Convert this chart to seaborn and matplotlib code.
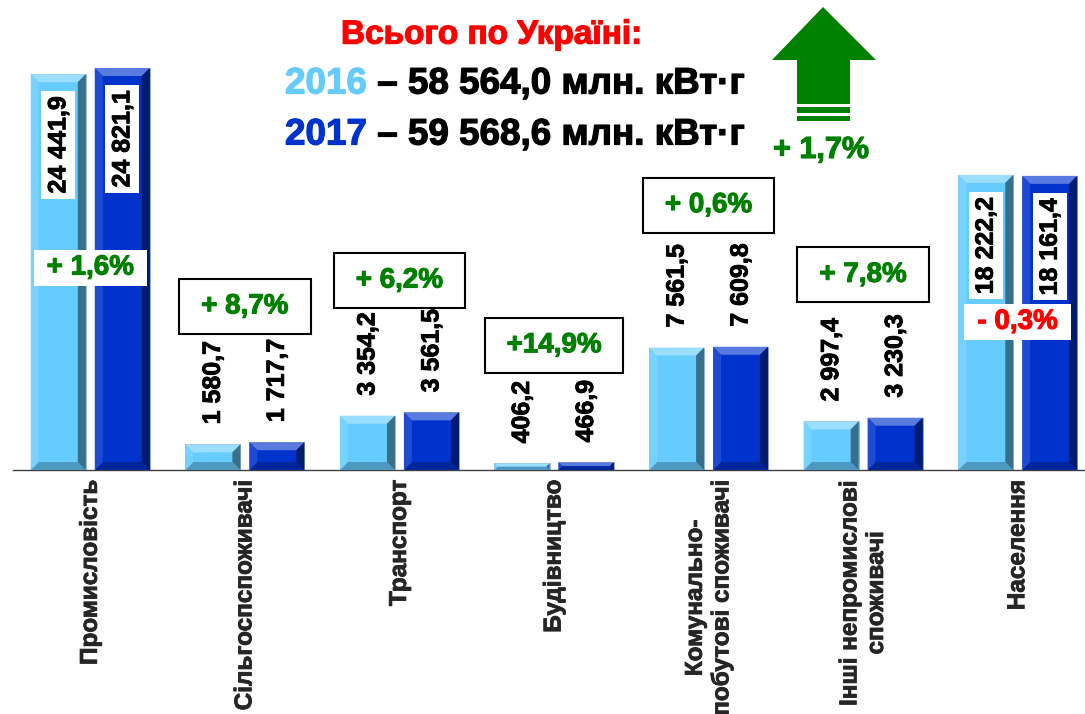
import matplotlib
matplotlib.use("Agg")
import numpy as np
import pandas as pd
import matplotlib.pyplot as plt
import matplotlib.colors as mcolors
import matplotlib.patheffects as pe
from matplotlib.patches import Polygon, Rectangle
from matplotlib.transforms import IdentityTransform
import seaborn as sns

# data
categories = ['Промисловість', 'Сільгоспспоживачі', 'Транспорт', 'Будівництво',
              'Комунально-\nпобутові споживачі', 'Інші непромислові\nспоживачі', 'Населення']
years = ['2016', '2017']
values_2016 = [24441.9, 1580.7, 3354.2, 406.2, 7561.5, 2997.4, 18222.2]
values_2017 = [24821.1, 1717.7, 3561.5, 466.9, 7609.8, 3230.3, 18161.4]
totals = [58564.0, 59568.6]

# where the change badges sit (data units)
badge_y = [12500, 10100, 11700, 7700, 16350, 12050, 9150]

LIGHT = '#66CCFF'
DARK = '#0033CC'
GREEN = '#008000'
RED = '#FF0000'
W, H = 1085, 714


def fmt(v):
    return f"{v:,.1f}".replace(',', ' ').replace('.', ',')


def fmt_pct(p):
    sign = '+' if p >= 0 else '-'
    sp = ' ' if abs(p) < 10 else ''
    return f"{sign}{sp}{abs(p):.1f}".replace('.', ',') + '%'


def px(x, y):
    return (x / W, 1 - y / H)


def mix(c, other, t):
    a = np.array(mcolors.to_rgb(c))
    b = np.array(mcolors.to_rgb(other))
    return tuple(a * (1 - t) + b * t)


def heavy(t, lw=0.7):
    # slide text is a bit heavier than Liberation bold
    t.set_path_effects([pe.withStroke(linewidth=lw, foreground=t.get_color())])
    return t


df = pd.DataFrame({
    'Category': categories * 2,
    'Year': [years[0]] * len(categories) + [years[1]] * len(categories),
    'Value': values_2016 + values_2017,
})

sns.set_style("white")
plt.rcParams['font.family'] = ['Liberation Sans', 'DejaVu Sans']
plt.rcParams['font.weight'] = 'bold'

fig = plt.figure(figsize=(W / 100, H / 100), dpi=100)
ax = fig.add_axes([13 / W, 244 / H, 1082 / W, 470 / H])

sns.barplot(data=df, x='Category', y='Value', hue='Year', palette=[LIGHT, DARK],
            width=0.828, gap=0.14, saturation=1, legend=False, ax=ax,
            edgecolor='#9AB0C8', linewidth=0.6)

ax.set_xlim(-0.5, len(categories) - 0.5)
ax.set_ylim(0, 29020)
ax.set_xlabel('')
ax.set_ylabel('')
ax.set_yticks([])
for s in ['top', 'left', 'right']:
    ax.spines[s].set_visible(False)
ax.spines['bottom'].set_color('#404040')
ax.spines['bottom'].set_linewidth(1)

ax.set_xticks(range(len(categories)))
ax.set_xticklabels(categories, rotation=90, fontsize=17.5, fontweight='bold',
                   ha='center', va='top', multialignment='center')
for lab in ax.get_xticklabels():
    heavy(lab, 0.6)
ax.set_xticks(np.arange(-0.5, len(categories), 1), minor=True)
ax.tick_params(axis='x', which='major', length=0, pad=7)
ax.tick_params(axis='x', which='minor', length=12, width=1, direction='inout', color='#404040')

# bevel look on each bar
for cont, base in zip(ax.containers, [LIGHT, DARK]):
    top_c = mix(base, 'white', 0.35)
    left_c = mix(base, 'white', 0.12)
    right_c = mix(base, 'black', 0.45)
    bot_c = mix(base, 'black', 0.25)
    for p in cont.patches:
        (x0, y0) = ax.transData.transform((p.get_x(), p.get_y()))
        (x1, y1) = ax.transData.transform((p.get_x() + p.get_width(), p.get_y() + p.get_height()))
        b = min(8, (y1 - y0) / 2, (x1 - x0) / 2)
        polys = [
            ([(x0, y1), (x1, y1), (x1 - b, y1 - b), (x0 + b, y1 - b)], top_c),
            ([(x0, y0), (x1, y0), (x1 - b, y0 + b), (x0 + b, y0 + b)], bot_c),
            ([(x0, y0), (x0 + b, y0 + b), (x0 + b, y1 - b), (x0, y1)], left_c),
            ([(x1, y0), (x1 - b, y0 + b), (x1 - b, y1 - b), (x1, y1)], right_c),
        ]
        for pts, c in polys:
            ax.add_patch(Polygon(pts, closed=True, facecolor=c, edgecolor='none',
                                 transform=IdentityTransform(), zorder=3))

# value labels
per_px = 29020 / 470
for cont, vals in zip(ax.containers, [values_2016, values_2017]):
    for p, v in zip(cont.patches, vals):
        xc = p.get_x() + p.get_width() / 2
        if v > 15000:
            t = ax.text(xc, v - 22 * per_px, fmt(v), rotation=90, ha='center', va='top',
                        fontsize=18, fontweight='bold', color='black', zorder=5,
                        bbox=dict(boxstyle='square,pad=0.2', facecolor='white', edgecolor='none'))
        else:
            t = ax.text(xc, v + 20 * per_px, fmt(v), rotation=90, ha='center', va='bottom',
                        fontsize=18, fontweight='bold', color='black', zorder=5)
        heavy(t, 0.6)

# change badges
badges = []
for i, (a, b) in enumerate(zip(values_2016, values_2017)):
    pct = (b / a - 1) * 100
    color = GREEN if pct >= 0 else RED
    t = ax.text(i, badge_y[i], fmt_pct(pct), ha='center', va='center', fontsize=20,
                fontweight='bold', color=color, zorder=7)
    heavy(t, 0.8)
    badges.append((t, a > 15000))

fig.canvas.draw()
renderer = fig.canvas.get_renderer()
for t, inside in badges:
    bb = t.get_window_extent(renderer)
    cx, cy = (bb.x0 + bb.x1) / 2, (bb.y0 + bb.y1) / 2
    if inside:
        w, h = bb.width + 26, 36
        rect = Rectangle((cx - w / 2, cy - h / 2), w, h, facecolor='white', edgecolor='none',
                         transform=IdentityTransform(), zorder=6)
    else:
        w, h = bb.width + 44, 55
        rect = Rectangle((cx - w / 2, cy - h / 2), w, h, facecolor='white', edgecolor='black',
                         linewidth=1.5, transform=IdentityTransform(), zorder=6)
    ax.add_patch(rect)

# header
heavy(fig.text(*px(492, 35), 'Всього по Україні:', color=RED, fontsize=24, fontweight='bold',
               ha='center', va='center'), 0.9)
for (yy, yr, tot, c) in zip([84, 135], years, totals, [LIGHT, DARK]):
    t = fig.text(*px(285, yy), yr, color=c, fontsize=26.5, fontweight='bold', ha='left', va='center')
    heavy(t, 0.9)
    heavy(ax.annotate(' – ' + fmt(tot) + ' млн. кВт·г', xy=(1, 0.5), xycoords=t, ha='left',
                      va='center', fontsize=26.5, fontweight='bold', color='black'), 0.9)

# green arrow
arrow = [(823, 7), (876, 60), (850, 60), (850, 104), (797, 104), (797, 60), (772, 60)]
fig.add_artist(Polygon([px(*p) for p in arrow], closed=True, facecolor=GREEN,
                       edgecolor='none', transform=fig.transFigure))
for (ya, yb) in [(107, 113), (116, 121)]:
    fig.add_artist(Polygon([px(797, ya), px(850, ya), px(850, yb), px(797, yb)], closed=True,
                           facecolor=GREEN, edgecolor='none', transform=fig.transFigure))
heavy(fig.text(*px(821, 150), fmt_pct((totals[1] / totals[0] - 1) * 100), color=GREEN,
               fontsize=22, fontweight='bold', ha='center', va='center'), 0.8)

fig.savefig('out.png', dpi=100)
plt.close(fig)
